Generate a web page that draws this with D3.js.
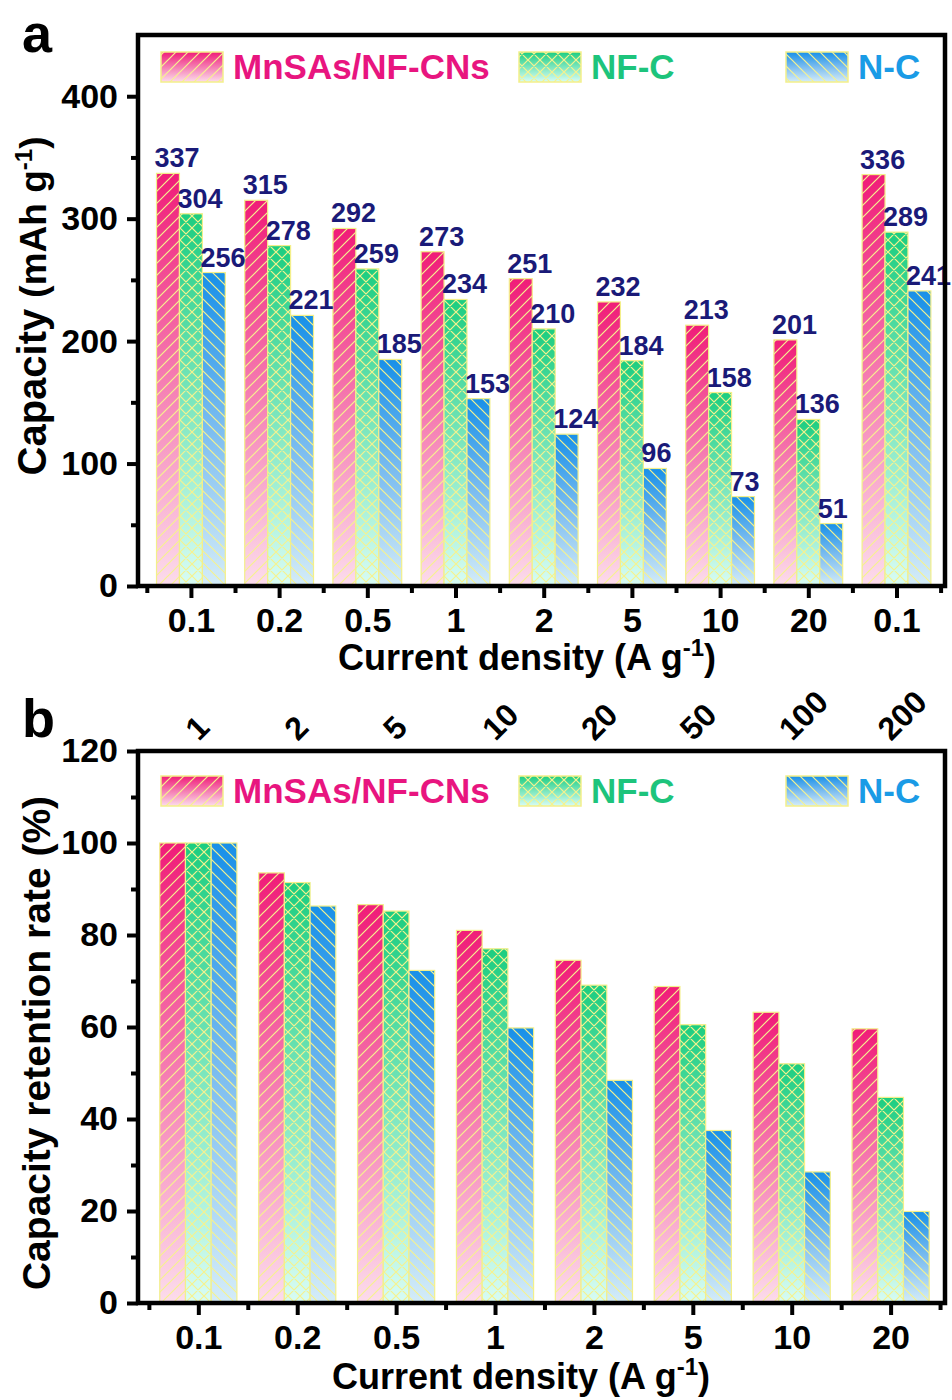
<!DOCTYPE html>
<html>
<head>
<meta charset="utf-8">
<script src="https://cdn.jsdelivr.net/npm/d3@7"></script>
<style>
  html, body { margin: 0; padding: 0; background: #fff; }
  svg { display: block; font-family: Arial, "Liberation Sans", sans-serif; font-weight: bold; }
</style>
</head>
<body>
<svg id="chart" width="952" height="1400"></svg>
<script>
// Rate capability data
const seriesNames = ["MnSAs/NF-CNs", "NF-C", "N-C"];

// Panel a: capacity (mAh g-1) at each current density step
const densityA = ["0.1", "0.2", "0.5", "1", "2", "5", "10", "20", "0.1"];
const capacityMn = [337, 315, 292, 273, 251, 232, 213, 201, 336];
const capacityNF = [304, 278, 259, 234, 210, 184, 158, 136, 289];
const capacityNC = [256, 221, 185, 153, 124, 96, 73, 51, 241];
const ticksA = [0, 100, 200, 300, 400];
const minorTicksA = [50, 150, 250, 350];

// Panel b: capacity retention (%) and the C-rate on the top axis
const densityB = ["0.1", "0.2", "0.5", "1", "2", "5", "10", "20"];
const rateB = ["1", "2", "5", "10", "20", "50", "100", "200"];
const retentionMn = [100, 93.5, 86.6, 81.0, 74.5, 68.8, 63.2, 59.6];
const retentionNF = [100, 91.4, 85.2, 77.0, 69.1, 60.5, 52.0, 44.7];
const retentionNC = [100, 86.3, 72.3, 59.8, 48.4, 37.5, 28.5, 19.9];
const ticksB = [0, 20, 40, 60, 80, 100, 120];
const minorTicksB = [10, 30, 50, 70, 90, 110];

const svg = d3.select("#chart");
const defs = svg.append("defs");

// Per-series style: gradient top/mid/bottom colours, hatch type, legend text colour
const styles = [
  { id: "mn", top: "#f01c78", mid: "#f57db2", bottom: "#fcdcec", hatch: "fwd", text: "#e8157f" },
  { id: "nf", top: "#1ccd80", mid: "#7be6bd", bottom: "#d8fcf4", hatch: "cross", text: "#1dc47c" },
  { id: "nc", top: "#1890e8", mid: "#7cbdf0", bottom: "#d4ecf8", hatch: "back", text: "#1a9be6" }
];
const hatchColor = "#f6f28e";
const edgeColor = "#f3ef8a";
const labelColor = "#1a1a78";
const fontFamily = "Arial, 'Liberation Sans', sans-serif";

styles.forEach(s => {
  const g = defs.append("linearGradient").attr("id", "grad-" + s.id)
    .attr("x1", 0).attr("y1", 0).attr("x2", 0).attr("y2", 1);
  g.append("stop").attr("offset", "0%").attr("stop-color", s.top);
  g.append("stop").attr("offset", "50%").attr("stop-color", s.mid);
  g.append("stop").attr("offset", "100%").attr("stop-color", s.bottom);

  const w = 12;
  const p = defs.append("pattern").attr("id", "hatch-" + s.id)
    .attr("patternUnits", "userSpaceOnUse").attr("width", w).attr("height", w);
  const fwd = `M0,${w} L${w},0 M-2,2 L2,-2 M${w - 2},${w + 2} L${w + 2},${w - 2}`;
  const back = `M0,0 L${w},${w} M-2,${w - 2} L2,${w + 2} M${w - 2},-2 L${w + 2},2`;
  const d = s.hatch === "fwd" ? fwd : s.hatch === "back" ? back : fwd + " " + back;
  p.append("path").attr("d", d).attr("stroke", hatchColor)
    .attr("stroke-width", 1.2).attr("fill", "none");
});

function drawPanel(cfg) {
  const { top, bottom, left, right, xDomain, yDomain, cats, series, yTicks, yMinor } = cfg;
  const x = d3.scaleLinear().domain(xDomain).range([left, right]);
  const y = d3.scaleLinear().domain(yDomain).range([bottom, top]);
  const g = svg.append("g");
  const barW = 0.26;
  const offsets = [-barW, 0, barW];

  series.forEach((vals, si) => {
    const s = styles[si];
    const sg = g.append("g");
    const bars = vals.map((v, i) => ({ v, i, x0: i + 1 + offsets[si] - barW / 2 }));
    sg.selectAll("rect.fill").data(bars).join("rect")
      .attr("x", d => x(d.x0))
      .attr("y", d => y(d.v))
      .attr("width", d => x(d.x0 + barW) - x(d.x0))
      .attr("height", d => y(0) - y(d.v))
      .attr("fill", `url(#grad-${s.id})`);
    sg.selectAll("rect.hatch").data(bars).join("rect")
      .attr("x", d => x(d.x0))
      .attr("y", d => y(d.v))
      .attr("width", d => x(d.x0 + barW) - x(d.x0))
      .attr("height", d => y(0) - y(d.v))
      .attr("fill", `url(#hatch-${s.id})`)
      .attr("stroke", edgeColor).attr("stroke-width", 1.2);
    if (cfg.valueLabels) {
      sg.selectAll("text.val").data(bars).join("text")
        .attr("x", d => x(d.x0) - 2)
        .attr("y", d => y(d.v) - 6)
        .attr("font-size", 27)
        .attr("fill", labelColor)
        .text(d => d.v);
    }
  });

  // Left axis: major and minor ticks
  const yAxis = svg.append("g").attr("transform", `translate(${left},0)`)
    .call(d3.axisLeft(y).tickValues(yTicks).tickSize(11).tickPadding(9).tickFormat(d3.format("d")));
  yAxis.select(".domain").remove();
  yAxis.selectAll("line").attr("stroke", "#000").attr("stroke-width", 4);
  yAxis.selectAll("text").attr("font-size", 34).attr("font-family", fontFamily)
    .attr("font-weight", "bold").attr("fill", "#000");
  const yMinorAxis = svg.append("g").attr("transform", `translate(${left},0)`)
    .call(d3.axisLeft(y).tickValues(yMinor).tickSize(7).tickFormat(""));
  yMinorAxis.select(".domain").remove();
  yMinorAxis.selectAll("line").attr("stroke", "#000").attr("stroke-width", 4);

  // Bottom axis: labels at category centres, minor ticks between groups
  const xAxis = svg.append("g").attr("transform", `translate(0,${bottom})`)
    .call(d3.axisBottom(x).tickValues(d3.range(1, cats.length + 1)).tickSize(12)
      .tickFormat((d, i) => cats[i]));
  xAxis.select(".domain").remove();
  xAxis.selectAll("line").attr("stroke", "#000").attr("stroke-width", 4);
  xAxis.selectAll("text").attr("dy", null).attr("y", 46).attr("font-size", 34)
    .attr("font-family", fontFamily).attr("font-weight", "bold").attr("fill", "#000");
  const xMinorAxis = svg.append("g").attr("transform", `translate(0,${bottom})`)
    .call(d3.axisBottom(x).tickValues(d3.range(0.5, cats.length + 0.6, 1)).tickSize(7).tickFormat(""));
  xMinorAxis.select(".domain").remove();
  xMinorAxis.selectAll("line").attr("stroke", "#000").attr("stroke-width", 4);

  // Plot frame
  svg.append("rect").attr("x", left).attr("y", top)
    .attr("width", right - left).attr("height", bottom - top)
    .attr("fill", "none").attr("stroke", "#000").attr("stroke-width", 4.5);

  // Legend
  const legX = [161, 519, 786];
  const legY = top + cfg.legendOffset;
  styles.forEach((s, si) => {
    const lg = svg.append("g");
    lg.append("rect").attr("x", legX[si]).attr("y", legY).attr("width", 62).attr("height", 30)
      .attr("fill", `url(#grad-${s.id})`);
    lg.append("rect").attr("x", legX[si]).attr("y", legY).attr("width", 62).attr("height", 30)
      .attr("fill", `url(#hatch-${s.id})`).attr("stroke", edgeColor).attr("stroke-width", 1.5);
    lg.append("text").attr("x", legX[si] + 72).attr("y", legY + 27)
      .attr("font-size", 35).attr("fill", s.text).text(seriesNames[si]);
  });

  return { x, y };
}

// ---- Panel a ----
drawPanel({
  top: 35, bottom: 586, left: 138, right: 945,
  xDomain: [0.4, 9.55], yDomain: [0, 450],
  cats: densityA, series: [capacityMn, capacityNF, capacityNC],
  yTicks: ticksA, yMinor: minorTicksA, valueLabels: true, legendOffset: 17
});

svg.append("text").attr("x", 22).attr("y", 52).attr("font-size", 54).text("a");

const titleA = svg.append("text").attr("transform", "translate(46,306) rotate(-90)")
  .attr("text-anchor", "middle").attr("font-size", 40);
titleA.append("tspan").text("Capacity ");
titleA.append("tspan").attr("font-size", 37).text("(mAh g");
titleA.append("tspan").attr("font-size", 24).attr("dy", -14).text("-1");
titleA.append("tspan").attr("font-size", 37).attr("dy", 14).text(")");

const xTitleA = svg.append("text").attr("x", 527).attr("y", 670)
  .attr("text-anchor", "middle").attr("font-size", 36);
xTitleA.append("tspan").text("Current density (A g");
xTitleA.append("tspan").attr("font-size", 24).attr("dy", -14).text("-1");
xTitleA.append("tspan").attr("dy", 14).text(")");

// ---- Panel b ----
const pb = drawPanel({
  top: 751, bottom: 1303, left: 138, right: 945,
  xDomain: [0.39, 8.55], yDomain: [0, 120],
  cats: densityB, series: [retentionMn, retentionNF, retentionNC],
  yTicks: ticksB, yMinor: minorTicksB, valueLabels: false, legendOffset: 25
});

// Top axis with the C-rate labels, rotated
const topAxis = svg.append("g").attr("transform", "translate(0,751)")
  .call(d3.axisTop(pb.x).tickValues(d3.range(1, rateB.length + 1)).tickSize(0)
    .tickFormat((d, i) => rateB[i]));
topAxis.select(".domain").remove();
topAxis.selectAll("text").attr("y", 0).attr("dy", null).attr("text-anchor", "start")
  .attr("transform", "translate(0,-9) rotate(-45)")
  .attr("font-size", 32).attr("font-family", fontFamily)
  .attr("font-weight", "bold").attr("fill", "#000");

svg.append("text").attr("x", 22).attr("y", 737).attr("font-size", 54).text("b");

svg.append("text").attr("transform", "translate(50,1043) rotate(-90)")
  .attr("text-anchor", "middle").attr("font-size", 39).text("Capacity retention rate (%)");

const xTitleB = svg.append("text").attr("x", 521).attr("y", 1389)
  .attr("text-anchor", "middle").attr("font-size", 36);
xTitleB.append("tspan").text("Current density (A g");
xTitleB.append("tspan").attr("font-size", 24).attr("dy", -14).text("-1");
xTitleB.append("tspan").attr("dy", 14).text(")");
</script>
</body>
</html>
